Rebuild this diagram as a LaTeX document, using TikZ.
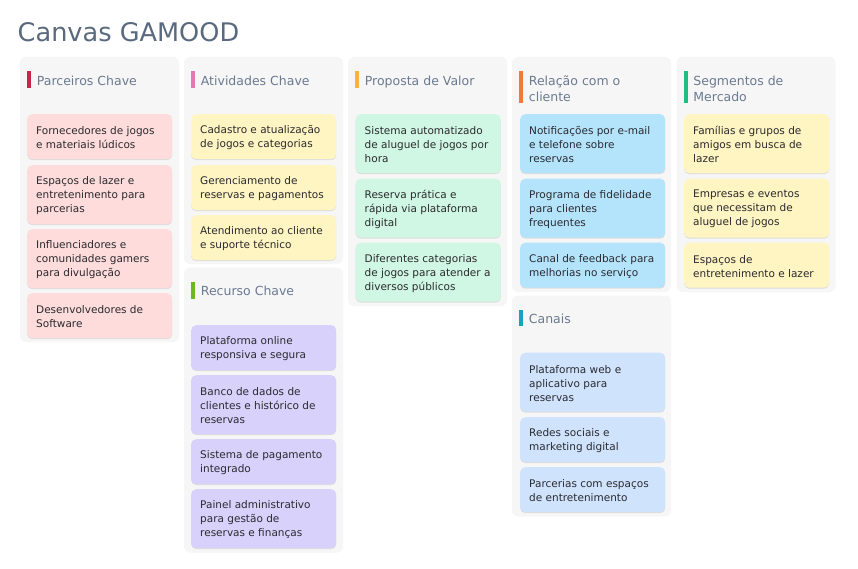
\documentclass[tikz,border=0pt]{standalone}
\usepackage{fontspec}
\setmainfont{DejaVu Sans}
\usetikzlibrary{shadows}
\definecolor{titlecol}{HTML}{5A6A7E}
\definecolor{headcol}{HTML}{6B7A90}
\definecolor{txtcol}{HTML}{2A2A2E}
\definecolor{panelbg}{HTML}{F6F6F6}
\definecolor{cpink}{HTML}{FEDCDC}
\definecolor{cyellow}{HTML}{FFF5C2}
\definecolor{clav}{HTML}{D7D1FB}
\definecolor{cmint}{HTML}{D0F7E3}
\definecolor{cblue}{HTML}{B4E4FC}
\definecolor{cblue2}{HTML}{CFE3FD}
\definecolor{aparc}{HTML}{C9244A}
\definecolor{aativ}{HTML}{E07BB2}
\definecolor{arec}{HTML}{6ABA1E}
\definecolor{aprop}{HTML}{F9B23B}
\definecolor{arel}{HTML}{F07A3D}
\definecolor{acan}{HTML}{17A2BD}
\definecolor{aseg}{HTML}{1CC083}
\tikzset{
  panelbox/.style={fill=panelbg, rounded corners=6pt, draw=none},
  cardbox/.style={rectangle, draw=none, rounded corners=5pt, minimum width=145pt, inner sep=0pt,
    drop shadow={shadow xshift=0pt, shadow yshift=-1pt, opacity=0.10, fill=black}},
  cardtext/.style={inner sep=0pt, align=left, text=txtcol, font=\fontsize{10.5}{14}\selectfont},
  headtext/.style={inner sep=0pt, align=left, text=headcol, font=\fontsize{12.5}{16}\selectfont, anchor=north west},
  accentbar/.style={draw=none}
}
\newcommand{\cardnode}[6]{%
  \node[cardbox, fill=#5, minimum height=#4pt, anchor=north west] (#1) at (#2,#3) {};
  \node[cardtext, anchor=west] (#1t) at ([xshift=9pt,yshift=-1.0pt]#1.west) {#6};
}
\newcommand{\panelnode}[8]{% name, x, top, bottom, accent color, accent bottom, header text
  \fill[panelbox] (#2,#3) rectangle (#2+159,#4);
  \fill[#5] (#2+7,#3+14) rectangle (#2+11,#6);
  \node[headtext] (#1) at (#2+16.7,#3+18.5) {#7};
}
\begin{document}
\begin{tikzpicture}[x=1pt,y=-1pt]
\fill[white] (0,0) rectangle (858,569);
\useasboundingbox (0,0) rectangle (858,569);

\node[anchor=base west, inner sep=0pt, text=titlecol, font=\fontsize{25.6}{30}\selectfont] (title) at (17.5,41.7) {Canvas GAMOOD};

% Parceiros Chave
\panelnode{hparc}{20}{57}{342}{aparc}{88}{Parceiros Chave}{}
\cardnode{p1}{27}{114}{45}{cpink}{Fornecedores de jogos\\e materiais lúdicos}
\cardnode{p2}{27}{165}{59}{cpink}{Espaços de lazer e\\entretenimento para\\parcerias}
\cardnode{p3}{27}{229}{59}{cpink}{Influenciadores e\\comunidades gamers\\para divulgação}
\cardnode{p4}{27}{293}{45}{cpink}{Desenvolvedores de\\Software}

% Atividades Chave
\panelnode{hativ}{184}{57}{264}{aativ}{88}{Atividades Chave}{}
\cardnode{a1}{191}{114}{45}{cyellow}{Cadastro e atualização\\de jogos e categorias}
\cardnode{a2}{191}{165}{45}{cyellow}{Gerenciamento de\\reservas e pagamentos}
\cardnode{a3}{191}{215}{45}{cyellow}{Atendimento ao cliente\\e suporte técnico}

% Recurso Chave
\panelnode{hrec}{184}{267.5}{552.5}{arec}{299}{Recurso Chave}{}
\cardnode{r1}{191}{325}{45}{clav}{Plataforma online\\responsiva e segura}
\cardnode{r2}{191}{375}{59}{clav}{Banco de dados de\\clientes e histórico de\\reservas}
\cardnode{r3}{191}{439}{45}{clav}{Sistema de pagamento\\integrado}
\cardnode{r4}{191}{489}{59}{clav}{Painel administrativo\\para gestão de\\reservas e finanças}

% Proposta de Valor
\panelnode{hprop}{348}{57}{306}{aprop}{88}{Proposta de Valor}{}
\cardnode{v1}{355.5}{114}{59}{cmint}{Sistema automatizado\\de aluguel de jogos por\\hora}
\cardnode{v2}{355.5}{178.5}{59}{cmint}{Reserva prática e\\rápida via plataforma\\digital}
\cardnode{v3}{355.5}{242.5}{59}{cmint}{Diferentes categorias\\de jogos para atender a\\diversos públicos}

% Relacao com o cliente
\panelnode{hrel}{512}{57}{292}{arel}{103.5}{Relação com o\\cliente}{}
\cardnode{c1}{520}{114}{59}{cblue}{Notificações por e-mail\\e telefone sobre\\reservas}
\cardnode{c2}{520}{178.5}{59}{cblue}{Programa de fidelidade\\para clientes\\frequentes}
\cardnode{c3}{520}{242.5}{45}{cblue}{Canal de feedback para\\melhorias no serviço}

% Canais
\panelnode{hcan}{512}{295.5}{516.5}{acan}{326}{Canais}{}
\cardnode{k1}{520}{352.5}{59}{cblue2}{Plataforma web e\\aplicativo para\\reservas}
\cardnode{k2}{520}{417}{45}{cblue2}{Redes sociais e\\marketing digital}
\cardnode{k3}{520}{467}{45}{cblue2}{Parcerias com espaços\\de entretenimento}

% Segmentos de Mercado
\panelnode{hseg}{676.5}{57}{292}{aseg}{103.5}{Segmentos de\\Mercado}{}
\cardnode{s1}{684}{114}{59}{cyellow}{Famílias e grupos de\\amigos em busca de\\lazer}
\cardnode{s2}{684}{178.5}{59}{cyellow}{Empresas e eventos\\que necessitam de\\aluguel de jogos}
\cardnode{s3}{684}{242.5}{45}{cyellow}{Espaços de\\entretenimento e lazer}
\end{tikzpicture}
\end{document}
